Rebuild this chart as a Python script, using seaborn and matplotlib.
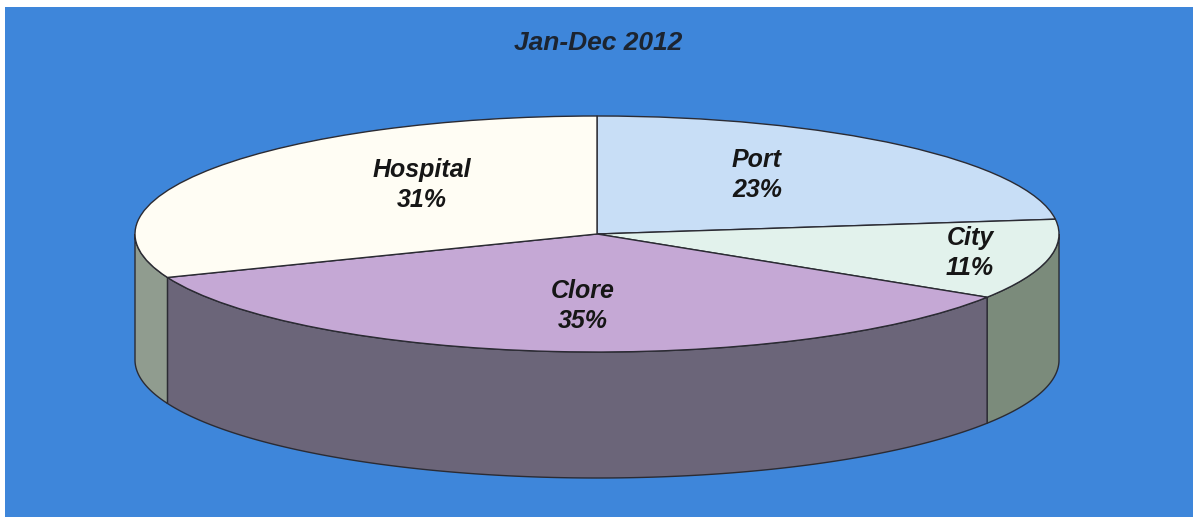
import numpy as np
import matplotlib
matplotlib.use("Agg")
import matplotlib.pyplot as plt
import seaborn as sns
from matplotlib.patches import Rectangle, Polygon

sns.set_theme(style="white")
plt.rcParams['font.family'] = ['Liberation Sans', 'DejaVu Sans']

# data
sites = ["Port", "City", "Clore", "Hospital"]
shares = [23, 11, 35, 31]
top_colors = ["#c8def6", "#e2f2ec", "#c5a8d5", "#fffdf4"]
side_colors = ["#8d9ca8", "#7b8b7b", "#6b6579", "#909c8f"]
title = "Jan-Dec 2012"

W, H = 1193, 517
cx_px, cy_px = 597, 234      # centre of the top ellipse in pixels
rx_px, ry_px = 462, 118      # ellipse radii in pixels
depth = 126 / ry_px          # side height in y units

fig = plt.figure(figsize=(W / 100, H / 100), dpi=100)
fig.patch.set_facecolor("white")

ax = fig.add_axes([0, 0, 1, 1])
ax.patch.set_alpha(0)
ax.add_patch(Rectangle((5 / W, 0), 1, 1 - 7 / H, transform=ax.transAxes,
                       facecolor="#3e86da", edgecolor="none", zorder=0))

wedges, _ = ax.pie(shares, colors=top_colors, startangle=90, counterclock=False,
                   radius=1, center=(0, 0),
                   wedgeprops=dict(edgecolor="#2b2b33", linewidth=1.0, zorder=3))

# visible front walls of each slice
for w, col in zip(wedges, side_colors):
    t1, t2 = w.theta1, w.theta2
    for off in (-360, 0, 360):
        a = max(t1, -180 + off)
        b = min(t2, off)
        if b <= a:
            continue
        t = np.radians(np.linspace(a, b, 200))
        xs, ys = np.cos(t), np.sin(t)
        pts = np.concatenate([np.column_stack([xs, ys]),
                              np.column_stack([xs[::-1], ys[::-1] - depth])])
        ax.add_patch(Polygon(pts, closed=True, facecolor=col,
                             edgecolor="#2b2b33", linewidth=1.0, zorder=2))

ax.set_aspect("auto")
ax.set_xlim(-cx_px / rx_px, (W - cx_px) / rx_px)
ax.set_ylim(-(H - cy_px) / ry_px, cy_px / ry_px)
ax.axis("off")

# label anchors (pixel positions of label centres)
label_px = [(757, 175), (970, 253), (583, 306), (422, 185)]
for name, val, (px, py) in zip(sites, shares, label_px):
    ax.text((px - cx_px) / rx_px, (cy_px - py) / ry_px, f"{name}\n{val}%",
            ha="center", va="center", fontsize=18, fontweight="bold",
            fontstyle="italic", color="#161616", linespacing=1.3, zorder=5)

ax.text(598 / W, 1 - 43 / H, title, transform=ax.transAxes, ha="center",
        va="center", fontsize=19, fontweight="bold", fontstyle="italic",
        color="#1c2430", zorder=5)

fig.savefig("out.png", dpi=100)
